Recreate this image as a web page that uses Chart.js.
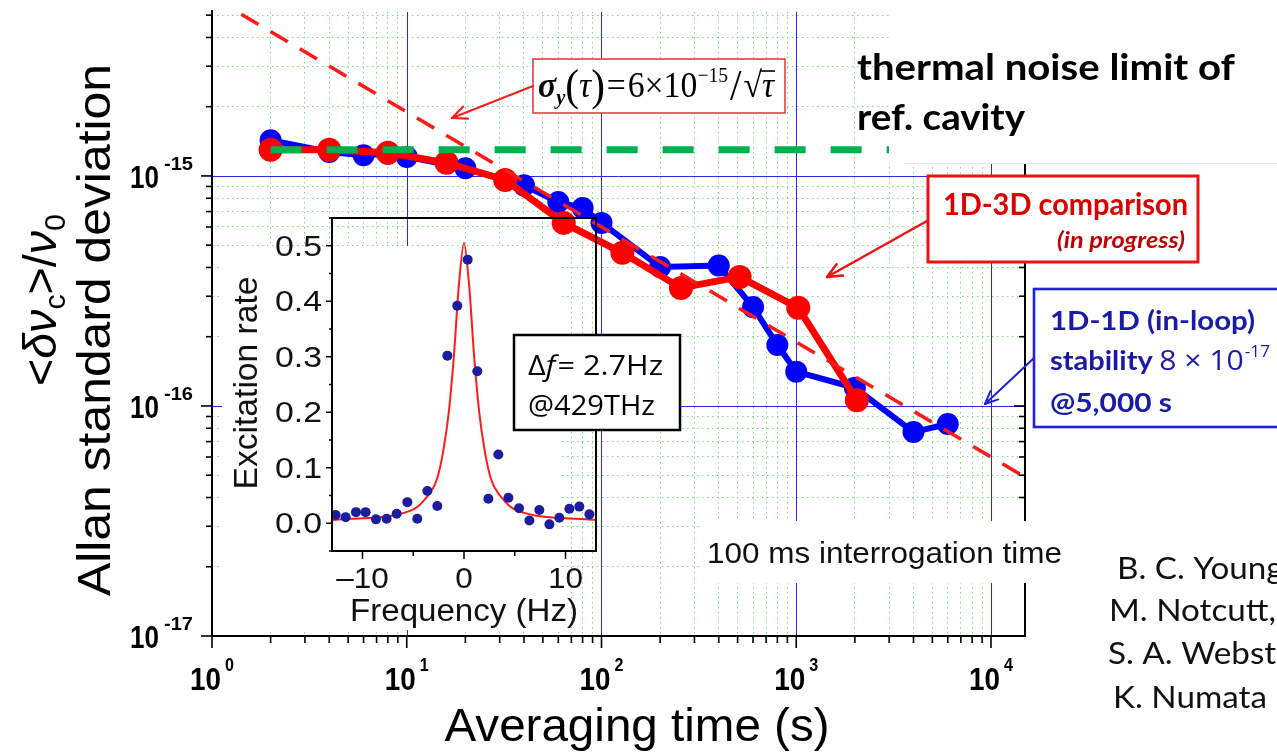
<!DOCTYPE html>
<html><head><meta charset="utf-8"><title>Allan standard deviation</title>
<script src="https://cdn.jsdelivr.net/npm/chart.js@4.4.1/dist/chart.umd.min.js"></script>
<style>
html,body{margin:0;padding:0;background:#fff;overflow:hidden;}
#wrap{position:relative;width:1277px;height:754px;}
canvas{position:absolute;display:block;}
#main{left:0;top:0;width:1277px;height:754px;}
#inset{left:222px;top:200px;width:468px;height:432px;}
</style></head><body>
<div id="wrap"><canvas id="main" width="1277" height="754"></canvas><canvas id="inset" width="468" height="432"></canvas></div>
<script>
// ---------- data ----------
const blueTau   = [2,4,6,8,10,20,40,60,80,100,200,400,600,800,1000,2000,4000,6000];
const blueSigma = [1.43e-15,1.27e-15,1.23e-15,1.25e-15,1.21e-15,1.08e-15,9.1e-16,7.7e-16,7.25e-16,6.25e-16,4.02e-16,4.08e-16,2.69e-16,1.84e-16,1.41e-16,1.20e-16,7.7e-17,8.35e-17];
const redTau    = [2,4,8,16,32,64,128,256,512,1024,2048];
const redSigma  = [1.30e-15,1.30e-15,1.26e-15,1.14e-15,9.6e-16,6.25e-16,4.63e-16,3.26e-16,3.64e-16,2.67e-16,1.06e-16];
const thermalTau   = [1,15000];
const thermalSigma = [6.0e-15,4.9e-17];
const greenTau   = [2,6000];
const greenSigma = [1.3e-15,1.3e-15];
const xTickDecades = [0,1,2,3,4];
const yTickDecades = [-17,-16,-15];

const insetFreq = [-12.64,-11.66,-10.64,-9.69,-8.67,-7.62,-6.63,-5.58,-4.60,-3.61,-2.63,-1.64,-0.66,0.36,1.31,2.40,3.38,4.37,5.42,6.44,7.42,8.41,9.39,10.38,11.36,12.35];
const insetRate = [0.015,0.011,0.020,0.020,0.007,0.008,0.017,0.038,0.008,0.058,0.031,0.302,0.392,0.475,0.274,0.044,0.124,0.046,0.027,0.005,0.024,-0.002,0.010,0.026,0.030,0.016];
const fitFreq = [-13,-11,-9,-7,-5,-4,-3,-2.5,-2,-1.5,-1,-0.5,0,0.5,1,1.5,2,2.5,3,4,5,7,9,11,13];
const fitRate = [0.006,0.008,0.010,0.014,0.025,0.040,0.065,0.090,0.135,0.200,0.300,0.430,0.505,0.430,0.300,0.200,0.135,0.090,0.065,0.040,0.025,0.014,0.010,0.008,0.006];
const insetYTicks = [0,0.1,0.2,0.3,0.4,0.5];
const insetXTicks = [-10,0,10];

// ---------- helpers ----------
const F_ARIAL = '"Liberation Sans", Arial, sans-serif';
const F_CAL = 'Lato, "Open Sans", sans-serif';
const F_SERIF = '"Liberation Serif", "Times New Roman", serif';
const isPow10 = v => Math.abs(Math.log10(v) - Math.round(Math.log10(v))) < 1e-6;
const pts = (xs, ys) => xs.map((x,i)=>({x:x, y:ys[i]}));

const xTickValues = [];
xTickDecades.forEach(e => { for (let m=1;m<=9;m++){ const v=m*Math.pow(10,e); if (v<=14950) xTickValues.push(v);} });
const yTickValues = [];
yTickDecades.forEach(e => { for (let m=1;m<=9;m++){ const v=m*Math.pow(10,e); if (v<=5.16e-15) yTickValues.push(v);} });

function txt(ctx, s, x, y, o){
  ctx.save();
  ctx.font = o.font; ctx.fillStyle = o.color || '#000';
  ctx.textBaseline = 'alphabetic'; ctx.textAlign = 'left';
  const m = ctx.measureText(s).width;
  const sx = o.w ? o.w/m : (o.sx || 1);
  const W = m*sx;
  let x0 = x;
  if (o.align === 'center') x0 = x - W/2; else if (o.align === 'right') x0 = x - W;
  ctx.translate(x0, y); ctx.scale(sx, 1); ctx.fillText(s, 0, 0);
  ctx.restore();
  return W;
}
function seg(ctx, x1,y1,x2,y2){ ctx.beginPath(); ctx.moveTo(x1,y1); ctx.lineTo(x2,y2); ctx.stroke(); }
function arrow(ctx, x1,y1,x2,y2,color,w,head){
  ctx.save(); ctx.strokeStyle=color; ctx.lineWidth=w; ctx.lineCap='round';
  seg(ctx,x1,y1,x2,y2);
  const a = Math.atan2(y2-y1,x2-x1);
  seg(ctx,x2,y2,x2-head*Math.cos(a-0.42),y2-head*Math.sin(a-0.42));
  seg(ctx,x2,y2,x2-head*Math.cos(a+0.42),y2-head*Math.sin(a+0.42));
  ctx.restore();
}
function box(ctx,x1,y1,x2,y2,stroke,w){
  ctx.save(); ctx.fillStyle='#fff'; ctx.fillRect(x1,y1,x2-x1,y2-y1);
  ctx.strokeStyle=stroke; ctx.lineWidth=w; ctx.strokeRect(x1,y1,x2-x1,y2-y1); ctx.restore();
}
function pieces(ctx, list, x, y, w, color){
  ctx.save(); ctx.textBaseline='alphabetic'; ctx.textAlign='left';
  let tot=0; const ws=[];
  list.forEach(p=>{ ctx.font=p[1]; const m=ctx.measureText(p[0]).width + (p[3]||0); ws.push(m); tot+=m; });
  const sx = w ? w/tot : 1;
  ctx.translate(x,y); ctx.scale(sx,1); ctx.fillStyle=color||'#000';
  let cx=0; const pos=[];
  list.forEach((p,i)=>{ ctx.font=p[1]; ctx.fillText(p[0],cx,p[2]||0); pos.push(cx); cx+=ws[i]; });
  ctx.restore();
  return {sx:sx, pos:pos.map(v=>x+v*sx), ws:ws.map(v=>v*sx)};
}

// ---------- main chart decorations ----------
const majorGrid = {
  id:'majorGrid',
  beforeDatasetsDraw(chart){
    const ctx=chart.ctx, xs=chart.scales.x, ys=chart.scales.y, ca=chart.chartArea;
    ctx.save(); ctx.strokeStyle='#2a2ae6'; ctx.lineWidth=1;
    xTickDecades.forEach(d=>{ if (d===0) return; const px=Math.round(xs.getPixelForValue(Math.pow(10,d)))+0.5; seg(ctx,px,ca.top,px,ca.bottom); });
    yTickDecades.forEach(d=>{ const py=Math.round(ys.getPixelForValue(Math.pow(10,d)))+0.5; if (py>ca.bottom-2) return; seg(ctx,ca.left,py,ca.right,py); });
    ctx.restore();
  }
};
const mainDecor = {
  id:'mainDecor',
  afterDraw(chart){
    const ctx=chart.ctx, xs=chart.scales.x, ys=chart.scales.y, ca=chart.chartArea;
    ctx.save();
    ctx.strokeStyle='#000'; ctx.lineWidth=2;
    seg(ctx, ca.left, ca.top-2, ca.left, ca.bottom+1);
    seg(ctx, ca.left-1, ca.bottom, ca.right+1, ca.bottom);
    seg(ctx, ca.right, 163, ca.right, ca.bottom+1);
    ctx.lineWidth=1.6;
    xTickValues.forEach(v=>{ const px=xs.getPixelForValue(v); const L=isPow10(v)?12:7; seg(ctx,px,ca.bottom,px,ca.bottom+L); });
    yTickValues.forEach(v=>{ const py=ys.getPixelForValue(v); const L=isPow10(v)?11:6;
      seg(ctx,ca.left-L,py,ca.left,py);
      if (py>=165) seg(ctx,ca.right-L,py,ca.right,py); });
    // tick labels
    xTickDecades.forEach(d=>{
      const px=xs.getPixelForValue(Math.pow(10,d));
      txt(ctx,'10',px-22,690,{font:'bold 31px '+F_ARIAL,w:31});
      txt(ctx,String(d),px+13,671,{font:'bold 19px '+F_ARIAL,sx:0.85});
    });
    yTickDecades.forEach(d=>{
      const py=ys.getPixelForValue(Math.pow(10,d));
      const supR = ca.left-19;
      const sw = txt(ctx,'-'+String(-d),supR,py-6,{font:'bold 18px '+F_ARIAL,w:29,align:'right'});
      txt(ctx,'10',supR-sw-5,py+12,{font:'bold 31px '+F_ARIAL,w:29,align:'right'});
    });
    // axis titles
    txt(ctx,'Averaging time (s)',637,741,{font:'47px '+F_ARIAL,w:385,align:'center'});
    ctx.save(); ctx.translate(110,330); ctx.rotate(-Math.PI/2);
    txt(ctx,'Allan standard deviation',0,0,{font:'47px '+F_ARIAL,w:532,align:'center'});
    ctx.restore();
    ctx.save(); ctx.translate(56,300); ctx.rotate(-Math.PI/2);
    const P=[['<','46px '+F_ARIAL,0],['δ','italic 46px '+F_ARIAL,0],['ν','italic 46px '+F_ARIAL,0],['c','30px '+F_ARIAL,9],
             ['>','46px '+F_ARIAL,0],['/','46px '+F_ARIAL,0],['ν','italic 46px '+F_ARIAL,0],['0','30px '+F_ARIAL,9]];
    pieces(ctx,P,-86,0,172);
    ctx.restore();

    // white cover regions
    ctx.fillStyle='#fff';
    ctx.fillRect(889,0,400,163);
    ctx.strokeStyle='#e6e6e6'; ctx.lineWidth=1; seg(ctx,905,163.5,1277,163.5);
    ctx.fillStyle='#fff'; ctx.fillRect(700,521,370,62);

    // thermal noise text
    txt(ctx,'thermal noise limit of',857,80,{font:'bold 37px '+F_CAL,w:378});
    txt(ctx,'ref. cavity',857,130,{font:'bold 37px '+F_CAL,w:168});

    // formula box
    box(ctx,533,59,785,113,'#e04040',1.6);
    const fr = pieces(ctx,[
      ['σ','italic bold 36px '+F_SERIF,0],['y','italic bold 22px '+F_SERIF,7],
      ['(','44px '+F_SERIF,3],['τ','italic 36px '+F_SERIF,0],[')','44px '+F_SERIF,3,2],
      ['=','36px '+F_SERIF,0,2],['6×10','36px '+F_SERIF,0],['−15','21px '+F_SERIF,-15,2],
      ['/','44px '+F_SERIF,3,2],['√','36px '+F_SERIF,0],['τ','italic 36px '+F_SERIF,0]
    ],538,97,236,'#000');
    ctx.strokeStyle='#000'; ctx.lineWidth=1.6;
    seg(ctx,fr.pos[9]+fr.ws[9]-2,71,fr.pos[10]+fr.ws[10]+1,71);
    arrow(ctx,533,86,452,118,'#ee2222',2.2,16);

    // 1D-3D box
    box(ctx,928,176,1198,262,'#ee1111',3);
    txt(ctx,'1D-3D comparison',943,215,{font:'bold 31px '+F_CAL,w:245,color:'#dd0000'});
    txt(ctx,'(in progress)',1185,248,{font:'italic bold 23px '+F_CAL,w:128,align:'right',color:'#c00000'});
    arrow(ctx,927,221,827,277,'#ee1111',2.4,16);

    // 1D-1D box
    box(ctx,1034,289,1295,427,'#2020dd',2.6);
    const bc='#1a1aa8';
    txt(ctx,'1D-1D (in-loop)',1050,330,{font:'bold 27px '+F_CAL,w:205,color:bc});
    pieces(ctx,[['stability','bold 27px '+F_CAL,0,6],['8 × 10','28px "Open Sans", sans-serif',0,1],['-17','16px "Open Sans", sans-serif',-13]],1050,370,220,bc);
    txt(ctx,'@5,000 s',1050,412,{font:'bold 27px '+F_CAL,w:122,color:bc});
    arrow(ctx,1034,358,985,404,'#2020dd',2,14);

    // interrogation time
    txt(ctx,'100 ms interrogation time',707,563,{font:'29px '+F_ARIAL,w:355,color:'#111'});

    // authors
    ctx.save(); ctx.font='30px '+F_CAL; const asx = 154/ctx.measureText('K. Numata').width; ctx.restore();
    txt(ctx,'B. C. Young',1117,579,{font:'30px '+F_CAL,sx:asx,color:'#111'});
    txt(ctx,'M. Notcutt,',1109,621,{font:'30px '+F_CAL,sx:asx,color:'#111'});
    txt(ctx,'S. A. Webster',1108,664,{font:'30px '+F_CAL,sx:asx,color:'#111'});
    txt(ctx,'K. Numata',1113,708,{font:'30px '+F_CAL,sx:asx,color:'#111'});
    ctx.restore();
  }
};

const gridColor = c => {
  if (!c.tick) return 'rgba(0,0,0,0)';
  const v=c.tick.value;
  if (isPow10(v)) return 'rgba(0,0,0,0)';
  return '#7ddc7d';
};
const gridDash = c => (c.tick && !isPow10(c.tick.value)) ? [1.5,3.5] : [];

new Chart(document.getElementById('main'), {
  type:'line',
  data:{datasets:[
    {label:'thermal noise limit of ref. cavity', data:pts(greenTau,greenSigma), borderColor:'#00b050', borderWidth:7, borderDash:[31,25], pointRadius:0, fill:false, order:0},
    {label:'6e-15/sqrt(tau)', data:pts(thermalTau,thermalSigma), borderColor:'#ff1a1a', borderWidth:3.5, borderDash:[20,14], pointRadius:0, fill:false, order:1},
    {label:'1D-3D comparison', data:pts(redTau,redSigma), borderColor:'#ff0000', backgroundColor:'#ff0000', pointBackgroundColor:'#ff0000', borderWidth:7, pointRadius:12, pointBorderWidth:0, fill:false, order:2},
    {label:'1D-1D (in-loop)', data:pts(blueTau,blueSigma), borderColor:'#0000ff', backgroundColor:'#0000ff', pointBackgroundColor:'#0000ff', borderWidth:6, pointRadius:11, pointBorderWidth:0, fill:false, order:3}
  ]},
  options:{
    responsive:false, animation:false, devicePixelRatio:1,
    layout:{padding:{left:0,top:12,right:252,bottom:0}, autoPadding:false},
    plugins:{legend:{display:false}, tooltip:{enabled:false}},
    scales:{
      x:{type:'logarithmic', position:'bottom', min:1, max:14950,
         afterBuildTicks:s=>{ s.ticks = xTickValues.map(v=>({value:v})); },
         afterFit:s=>{ s.height=118; },
         ticks:{display:false},
         grid:{drawTicks:false, color:gridColor, lineWidth:1},
         border:{display:false, dash:gridDash}},
      y:{type:'logarithmic', position:'left', min:1e-17, max:5.16e-15,
         afterBuildTicks:s=>{ s.ticks = yTickValues.map(v=>({value:v})); },
         afterFit:s=>{ s.width=212; },
         ticks:{display:false},
         grid:{drawTicks:false, color:gridColor, lineWidth:1},
         border:{display:false, dash:gridDash}}
    }
  },
  plugins:[majorGrid, mainDecor]
});

// ---------- inset ----------
const insetDecor = {
  id:'insetDecor',
  beforeDraw(chart){ const c=chart.ctx; c.save(); c.fillStyle='#fff'; c.fillRect(0,46,340,384); c.restore(); },
  afterDraw(chart){
    const ctx=chart.ctx, xs=chart.scales.x, ys=chart.scales.y, ca=chart.chartArea;
    ctx.save();
    ctx.strokeStyle='#000'; ctx.lineWidth=2;
    ctx.strokeRect(ca.left,ca.top,ca.right-ca.left,ca.bottom-ca.top);
    ctx.lineWidth=1.5;
    for (let k=-1;k<=11;k++){ const v=k*0.05; const py=ys.getPixelForValue(v); const L=(k%2===0)?6:3; seg(ctx,ca.left-L,py,ca.left,py); }
    for (let k=-2;k<=2;k++){ const v=k*5; const px=xs.getPixelForValue(v); const L=(k%2===0)?8:5; seg(ctx,px,ca.bottom,px,ca.bottom+L); }
    ctx.save(); ctx.font='29px '+F_ARIAL; const ysx=47/ctx.measureText('0.5').width; ctx.restore();
    insetYTicks.forEach(v=>{ const py=ys.getPixelForValue(v); txt(ctx,v.toFixed(1),100,py+10,{font:'29px '+F_ARIAL,sx:ysx,align:'right',color:'#111'}); });
    insetXTicks.forEach(v=>{ const px=xs.getPixelForValue(v); const s=(v<0?'–':'')+Math.abs(v); txt(ctx,s,px,388,{font:'30px '+F_ARIAL,sx:1.05,align:'center',color:'#111'}); });
    ctx.save(); ctx.translate(35,183); ctx.rotate(-Math.PI/2);
    txt(ctx,'Excitation rate',0,0,{font:'33px '+F_ARIAL,w:213,align:'center',color:'#111'});
    ctx.restore();
    txt(ctx,'Frequency (Hz)',242,421,{font:'31px '+F_ARIAL,w:228,align:'center',color:'#111'});
    // Δf box
    box(ctx,292,135,458,230,'#000',2.5);
    pieces(ctx,[['Δ','28px "Open Sans", sans-serif',0],['f','italic 28px "Open Sans", sans-serif',0,2],['= 2.7Hz','28px "Open Sans", sans-serif',0]],306,175,135,'#000');
    txt(ctx,'@429THz',306,215,{font:'28px "Open Sans", sans-serif',w:127});
    ctx.restore();
  }
};

new Chart(document.getElementById('inset'), {
  type:'scatter',
  data:{datasets:[
    {label:'Lorentzian fit', data:pts(fitFreq,fitRate), showLine:true, borderColor:'#ff1a1a', borderWidth:2, pointRadius:0, tension:0.3, fill:false, order:1},
    {label:'Excitation rate', data:pts(insetFreq,insetRate), showLine:false, backgroundColor:'#1c1c9e', pointBackgroundColor:'#1c1c9e', pointRadius:5, pointBorderWidth:0, order:0}
  ]},
  options:{
    responsive:false, animation:false, devicePixelRatio:1,
    layout:{padding:{left:0,top:18,right:94,bottom:0}, autoPadding:false},
    plugins:{legend:{display:false}, tooltip:{enabled:false}},
    scales:{
      x:{type:'linear', min:-13, max:13, afterFit:s=>{ s.height=81; }, ticks:{display:false}, grid:{display:false}, border:{display:false}},
      y:{type:'linear', min:-0.05, max:0.55, afterFit:s=>{ s.width=110; }, ticks:{display:false}, grid:{display:false}, border:{display:false}}
    }
  },
  plugins:[insetDecor]
});
</script></body></html>
